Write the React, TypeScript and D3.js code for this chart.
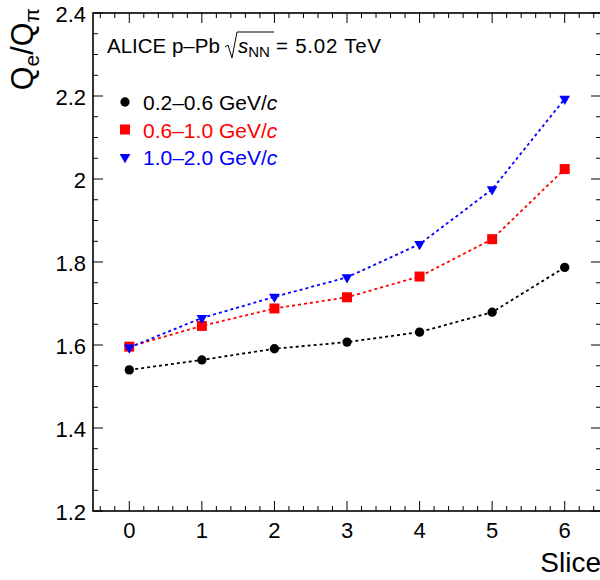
import React from "react";
import * as d3 from "d3";

const slices = [0, 1, 2, 3, 4, 5, 6];
const ratioLow = [1.540, 1.564, 1.591, 1.607, 1.631, 1.679, 1.787];
const ratioMid = [1.596, 1.646, 1.688, 1.715, 1.765, 1.855, 2.024];
const ratioHigh = [1.594, 1.665, 1.716, 1.763, 1.843, 1.975, 2.193];
const seriesLabels = ["0.2–0.6 GeV/", "0.6–1.0 GeV/", "1.0–2.0 GeV/"];
const yTickLabels = [1.2, 1.4, 1.6, 1.8, 2.0, 2.2, 2.4];

const W = 600;
const H = 580;
const M = { left: 93, right: 601, top: 13, bottom: 511 };
const FONT = "'Liberation Sans', Arial, Helvetica, sans-serif";

export default function App() {
  const x = d3.scaleLinear().domain([-0.5, 6.5]).range([M.left, M.right]);
  const y = d3.scaleLinear().domain([1.2, 2.4]).range([M.bottom, M.top]);

  const series = [
    { vals: ratioLow, color: "#000000", shape: d3.symbolCircle, size: 68, rot: 0 },
    { vals: ratioMid, color: "#ff0000", shape: d3.symbolSquare, size: 100, rot: 0 },
    { vals: ratioHigh, color: "#0000ff", shape: d3.symbolTriangle, size: 50, rot: 180 },
  ];

  const line = d3
    .line<number>()
    .x((_, i) => x(slices[i]))
    .y((v) => y(v));

  const xMinor = d3.range(-0.4, 6.41, 0.2).map((v) => Math.round(v * 10) / 10);
  const yMinor = d3.range(1.2, 2.401, 0.05).map((v) => Math.round(v * 100) / 100);
  const isMajorX = (v: number) => Math.abs(v - Math.round(v)) < 1e-6;
  const isMajorY = (v: number) => Math.abs(v * 5 - Math.round(v * 5)) < 1e-6;

  const fmt = (v: number) => (v === 2 ? "2" : d3.format(".1f")(v));

  return (
    <svg
      width={W}
      height={H}
      style={{ position: "absolute", left: 0, top: 0, background: "#fff" }}
      fontFamily={FONT}
    >
      <rect x={0} y={0} width={W} height={H} fill="#fff" />
      {/* ticks */}
      <g stroke="#000" strokeWidth={1}>
        {xMinor.map((v) => {
          const len = isMajorX(v) ? 10 : 5;
          const px = x(v);
          return (
            <g key={"xt" + v}>
              <line x1={px} x2={px} y1={M.bottom} y2={M.bottom - len} />
              <line x1={px} x2={px} y1={M.top} y2={M.top + len} />
            </g>
          );
        })}
        {yMinor.map((v) => {
          const len = isMajorY(v) ? 10 : 5;
          const py = y(v);
          return (
            <g key={"yt" + v}>
              <line x1={M.left} x2={M.left + len} y1={py} y2={py} />
              <line x1={M.right} x2={M.right - len} y1={py} y2={py} />
            </g>
          );
        })}
      </g>
      <rect
        x={M.left}
        y={M.top}
        width={M.right - M.left}
        height={M.bottom - M.top}
        fill="none"
        stroke="#000"
        strokeWidth={1.6}
      />
      {/* tick labels */}
      <g fontSize={22} fill="#000">
        {yTickLabels.map((v) => (
          <text key={"yl" + v} x={86} y={y(v) + 8.5} textAnchor="end">
            {fmt(v)}
          </text>
        ))}
        {slices.map((v) => (
          <text key={"xl" + v} x={x(v)} y={538} textAnchor="middle">
            {v}
          </text>
        ))}
      </g>
      {/* axis titles */}
      <text x={601} y={572} textAnchor="end" fontSize={28}>
        Slice
      </text>
      <text
        transform={`translate(33,8) rotate(-90)`}
        textAnchor="end"
        fontSize={30.5}
      >
        Q<tspan fontSize={21} dy={6}>e</tspan>
        <tspan dy={-6}>/Q</tspan>
        <tspan fontSize={21} dy={6}>π</tspan>
      </text>
      {/* lines and markers */}
      {series.map((s, si) => (
        <g key={"s" + si}>
          <path
            d={line(s.vals) || ""}
            fill="none"
            stroke={s.color}
            strokeWidth={1.8}
            strokeDasharray="3,3"
          />
          {s.vals.map((v, i) => (
            <path
              key={i}
              d={d3.symbol(s.shape, s.size)() || ""}
              transform={`translate(${x(slices[i])},${y(v)}) rotate(${s.rot})`}
              fill={s.color}
            />
          ))}
        </g>
      ))}
      {/* header */}
      <text x={107} y={53} fontSize={20.5}>
        ALICE p–Pb
      </text>
      <path d="M225,47 L228,45 L232,58 L237,32 L274,32" fill="none" stroke="#000" strokeWidth={1} />
      <text x={238} y={53} fontSize={20.5}>
        <tspan fontStyle="italic">s</tspan>
        <tspan fontSize={15} dy={4}>NN</tspan>
      </text>
      <text x={276} y={53} fontSize={20.5} textLength={105} lengthAdjust="spacing">
        = 5.02 TeV
      </text>
      {/* legend */}
      {series.map((s, si) => {
        const ly = 102 + si * 27.5;
        return (
          <g key={"lg" + si}>
            <path
              d={d3.symbol(s.shape, s.size)() || ""}
              transform={`translate(125,${ly}) rotate(${s.rot})`}
              fill={s.color}
            />
            <text x={143} y={ly + 8} fontSize={21} fill={s.color}>
              {seriesLabels[si]}
              <tspan fontStyle="italic">c</tspan>
            </text>
          </g>
        );
      })}
    </svg>
  );
}
